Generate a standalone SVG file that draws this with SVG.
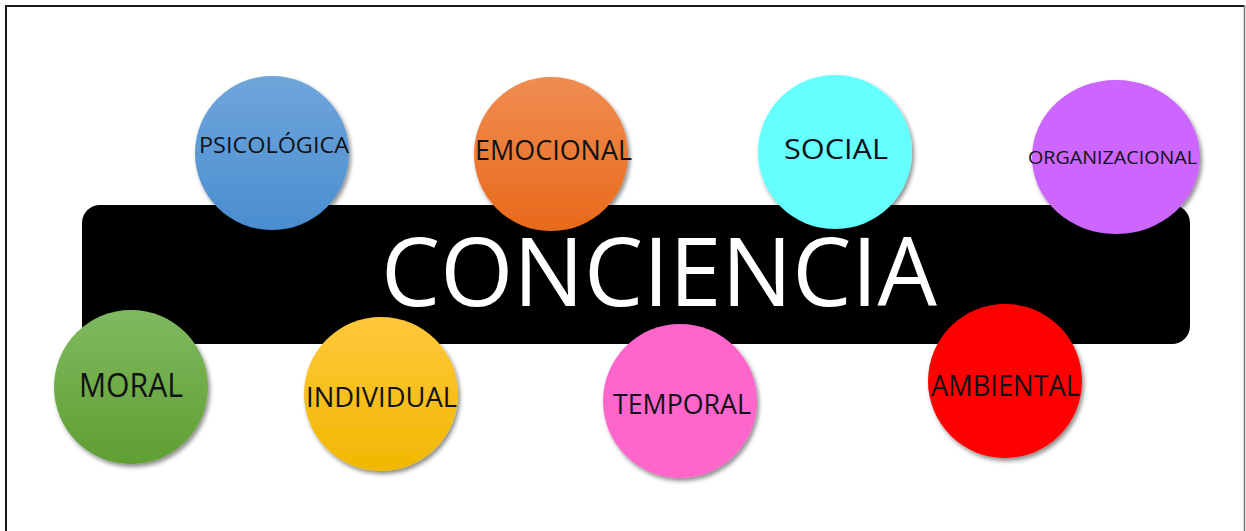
<svg xmlns="http://www.w3.org/2000/svg" width="1246" height="531" viewBox="0 0 1246 531">
  <style>
    .lbl { font-family: "Open Sans", "Noto Sans", "DejaVu Sans", sans-serif; fill: #111118; text-anchor: start; }
    .title { font-family: "Open Sans", "Noto Sans", "DejaVu Sans", sans-serif; fill: #ffffff; }
    .bubble { filter: url(#shadow); }
  </style>
  <defs>
    <filter id="shadow" x="-20%" y="-20%" width="150%" height="150%">
      <feDropShadow dx="2" dy="3" stdDeviation="2.2" flood-color="#000" flood-opacity="0.45"/>
    </filter>
    <linearGradient id="gBlue" x1="0" y1="0" x2="0" y2="1">
      <stop offset="0" stop-color="#6fa5da"/>
      <stop offset="1" stop-color="#4a8ed0"/>
    </linearGradient>
    <linearGradient id="gOrange" x1="0" y1="0" x2="0" y2="1">
      <stop offset="0" stop-color="#f08d52"/>
      <stop offset="1" stop-color="#e8691a"/>
    </linearGradient>
    <linearGradient id="gGreen" x1="0" y1="0" x2="0" y2="1">
      <stop offset="0" stop-color="#80b960"/>
      <stop offset="1" stop-color="#5f9f32"/>
    </linearGradient>
    <linearGradient id="gYellow" x1="0" y1="0" x2="0" y2="1">
      <stop offset="0" stop-color="#ffc83c"/>
      <stop offset="1" stop-color="#f0b800"/>
    </linearGradient>
  </defs>

  <rect x="0" y="0" width="1246" height="531" fill="#ffffff"/>
  <!-- frame -->
  <line x1="6" y1="6" x2="1245" y2="6" stroke="#1a1a1a" stroke-width="2"/>
  <line x1="6" y1="5" x2="6" y2="531" stroke="#1a1a1a" stroke-width="2"/>
  <line x1="1244.5" y1="5" x2="1244.5" y2="531" stroke="#777777" stroke-width="1.5"/>

  <g id="connectors"></g>

  <g id="conciencia">
    <rect x="82" y="205" width="1108" height="139" rx="18" ry="18" fill="#000000"/>
    <text class="title" x="381" y="306" font-size="96" textLength="556" lengthAdjust="spacingAndGlyphs">CONCIENCIA</text>
  </g>

  <g id="psicologica">
    <circle class="bubble" cx="272" cy="153" r="77" fill="url(#gBlue)"/>
    <text class="lbl" x="199" y="153" font-size="22" textLength="150" lengthAdjust="spacingAndGlyphs">PSICOLÓGICA</text>
  </g>

  <g id="emocional">
    <circle class="bubble" cx="551" cy="154" r="77" fill="url(#gOrange)"/>
    <text class="lbl" x="475" y="160" font-size="28" textLength="157" lengthAdjust="spacingAndGlyphs">EMOCIONAL</text>
  </g>

  <g id="social">
    <circle class="bubble" cx="835" cy="152" r="77" fill="#66ffff"/>
    <text class="lbl" x="784" y="159" font-size="28" textLength="104" lengthAdjust="spacingAndGlyphs">SOCIAL</text>
  </g>

  <g id="organizacional">
    <ellipse class="bubble" cx="1116" cy="157" rx="84" ry="77" fill="#cc66ff"/>
    <text class="lbl" x="1028" y="164" font-size="19" textLength="169" lengthAdjust="spacingAndGlyphs">ORGANIZACIONAL</text>
  </g>

  <g id="moral">
    <circle class="bubble" cx="131" cy="387" r="77" fill="url(#gGreen)"/>
    <text class="lbl" x="79" y="397" font-size="33" textLength="104" lengthAdjust="spacingAndGlyphs">MORAL</text>
  </g>

  <g id="individual">
    <circle class="bubble" cx="381" cy="394" r="77" fill="url(#gYellow)"/>
    <text class="lbl" x="306" y="407" font-size="28" textLength="151" lengthAdjust="spacingAndGlyphs">INDIVIDUAL</text>
  </g>

  <g id="temporal">
    <circle class="bubble" cx="680" cy="401" r="77" fill="#ff66cc"/>
    <text class="lbl" x="613" y="414" font-size="28" textLength="138" lengthAdjust="spacingAndGlyphs">TEMPORAL</text>
  </g>

  <g id="ambiental">
    <circle class="bubble" cx="1005" cy="381" r="77" fill="#ff0000"/>
    <text class="lbl" x="931" y="396" font-size="29" textLength="149" lengthAdjust="spacingAndGlyphs">AMBIENTAL</text>
  </g>
</svg>
